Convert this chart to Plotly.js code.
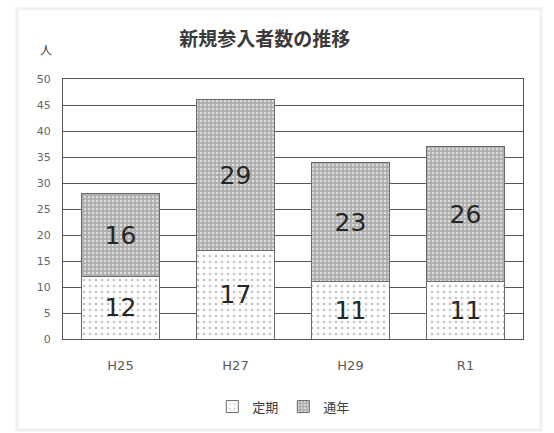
<!DOCTYPE html>
<html><head><meta charset="utf-8">
<script src="https://cdn.plot.ly/plotly-3.0.1.min.js"></script>
<style>html,body{margin:0;padding:0;background:#fff}#chart{width:554px;height:433px}</style>
</head><body><div id="chart"></div>
<script>
const categories = ['H25', 'H27', 'H29', 'R1'];
const teiki = [12, 17, 11, 11];   // 定期
const tsunen = [16, 29, 23, 26];  // 通年
const yTicks = [0, 5, 10, 15, 20, 25, 30, 35, 40, 45, 50];
const seriesNames = ['定期', '通年'];

const font = '"Noto Sans CJK JP", "Noto Sans", sans-serif';
const traces = [
  {
    type: 'bar', name: seriesNames[0], x: categories, y: teiki,
    text: teiki.map(String), textposition: 'inside', insidetextanchor: 'middle',
    textangle: 0, constraintext: 'none',
    textfont: {family: '"DejaVu Sans", sans-serif', size: 25, color: '#262626'},
    marker: {color: '#ffffff', line: {color: '#6a6a6a', width: 1},
      pattern: {shape: '.', bgcolor: '#ffffff', fgcolor: '#c4c4c4', size: 6, solidity: 0.15, fillmode: 'replace'}},
    hoverinfo: 'none'
  },
  {
    type: 'bar', name: seriesNames[1], x: categories, y: tsunen,
    text: tsunen.map(String), textposition: 'inside', insidetextanchor: 'middle',
    textangle: 0, constraintext: 'none',
    textfont: {family: '"DejaVu Sans", sans-serif', size: 25, color: '#262626'},
    marker: {color: '#b4b4b4', line: {color: '#6a6a6a', width: 1},
      pattern: {shape: '.', bgcolor: '#adadad', fgcolor: '#dedede', size: 4, solidity: 0.3, fillmode: 'replace'}},
    hoverinfo: 'none'
  }
];

const layout = {
  width: 554, height: 433,
  margin: {l: 63, r: 31, t: 79, b: 92},
  paper_bgcolor: '#ffffff', plot_bgcolor: '#ffffff',
  barmode: 'stack', bargap: 0.33,
  font: {family: font, color: '#595959'},
  title: {text: '新規参入者数の推移', x: 0.478, xanchor: 'center', y: 0.908, yanchor: 'middle',
    font: {family: font, size: 19, color: '#3a3a3a', weight: 'bold'}},
  xaxis: {type: 'category', showgrid: false, zeroline: false, showline: true, linecolor: '#555', linewidth: 1,
    mirror: true, ticks: 'outside', ticklen: 14, tickcolor: 'rgba(0,0,0,0)',
    tickfont: {size: 13, color: '#5a5a5a', family: '"DejaVu Sans", sans-serif'}},
  yaxis: {range: [0, 50], tickvals: yTicks, showgrid: true, gridcolor: '#555', gridwidth: 1,
    zeroline: false, showline: true, linecolor: '#555', linewidth: 1, mirror: true,
    ticks: 'outside', ticklen: 9, tickcolor: 'rgba(0,0,0,0)',
    tickfont: {size: 11, color: '#666', family: '"DejaVu Sans", sans-serif'}},
  legend: {orientation: 'h', x: 0.48, xanchor: 'center', y: -0.26, yanchor: 'middle',
    font: {size: 13, color: '#404040', family: font}, itemwidth: 30, traceorder: 'normal'},
  annotations: [{text: '人', xref: 'paper', yref: 'paper', x: -0.055, y: 1.155, showarrow: false,
    font: {family: font, size: 12, color: '#404040'}}],
  shapes: [{type: 'rect', xref: 'paper', yref: 'paper', x0: -0.1, x1: 1.039, y0: -0.35, y1: 1.27,
    line: {color: '#f0f0f0', width: 3}, layer: 'below'}]
};

Plotly.newPlot('chart', traces, layout, {displayModeBar: false, staticPlot: true});
</script></body></html>
